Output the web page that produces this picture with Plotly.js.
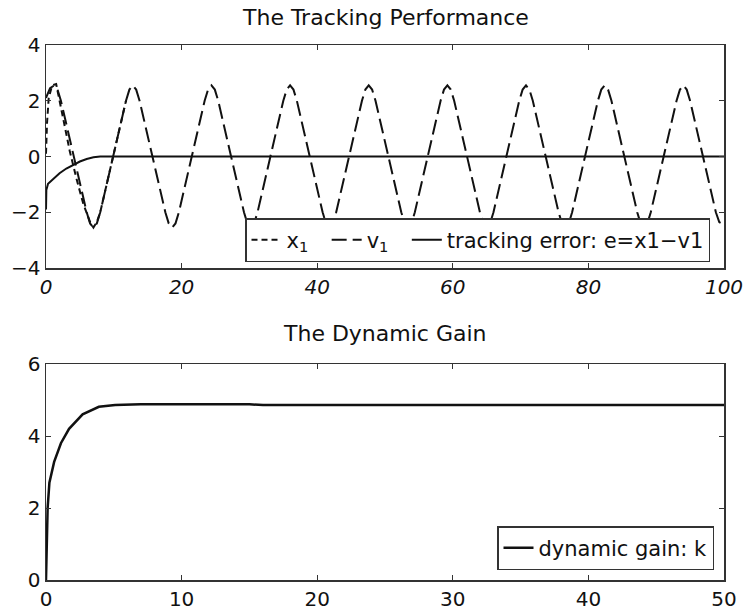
<!DOCTYPE html>
<html>
<head>
<meta charset="utf-8">
<script src="https://cdn.plot.ly/plotly-3.0.1.min.js"></script>
<style>html,body{margin:0;padding:0;background:#fff;}#chart{width:746px;height:609px;}</style>
</head>
<body>
<div id="chart"></div>
<script>
// ---- Top panel: tracking performance ----
const x1Time = [0, 0.15, 0.4, 0.9, 1.5, 2.5, 3.5, 4.5, 5.5, 6.5, 7.0, 7.5, 8.0, 9.9, 11.8];
const x1Vals = [0.1, 1.2, 2.1, 2.55, 2.6, 1.4, 0.2, -0.8, -1.7, -2.35, -2.55, -2.35, -2.0, 0, 2.0];

const v1Time = [0, 0.6, 1.2, 1.7, 2.2, 4.1, 6.0, 6.5,
  7.0, 7.5, 8.0, 9.9, 11.8, 12.3, 12.8, 13.3, 13.8, 15.7, 17.6, 18.1,
  18.6, 19.1, 19.6, 21.5, 23.4, 23.9, 24.4, 24.9, 25.4, 27.3, 29.2, 29.7,
  30.2, 30.7, 31.2, 33.1, 35.0, 35.5, 36.0, 36.5, 37.0, 38.9, 40.8, 41.3,
  41.8, 42.3, 42.8, 44.7, 46.6, 47.1, 47.6, 48.1, 48.6, 50.5, 52.4, 52.9,
  53.4, 53.9, 54.4, 56.3, 58.2, 58.7, 59.2, 59.7, 60.2, 62.1, 64.0, 64.5,
  65.0, 65.5, 66.0, 67.9, 69.8, 70.3, 70.8, 71.3, 71.8, 73.7, 75.6, 76.1,
  76.6, 77.1, 77.6, 79.5, 81.4, 81.9, 82.4, 82.9, 83.4, 85.3, 87.2, 87.7,
  88.2, 88.7, 89.2, 91.1, 93.0, 93.5, 94.0, 94.5, 95.0, 96.9, 98.8, 99.3, 100];
const v1Vals = [2.1, 2.45, 2.55, 2.4, 2.0, 0, -2.0, -2.4,
  -2.55, -2.4, -2.0, 0, 2.0, 2.4, 2.55, 2.4, 2.0, 0, -2.0, -2.4,
  -2.55, -2.4, -2.0, 0, 2.0, 2.4, 2.55, 2.4, 2.0, 0, -2.0, -2.4,
  -2.55, -2.4, -2.0, 0, 2.0, 2.4, 2.55, 2.4, 2.0, 0, -2.0, -2.4,
  -2.55, -2.4, -2.0, 0, 2.0, 2.4, 2.55, 2.4, 2.0, 0, -2.0, -2.4,
  -2.55, -2.4, -2.0, 0, 2.0, 2.4, 2.55, 2.4, 2.0, 0, -2.0, -2.4,
  -2.55, -2.4, -2.0, 0, 2.0, 2.4, 2.55, 2.4, 2.0, 0, -2.0, -2.4,
  -2.55, -2.4, -2.0, 0, 2.0, 2.4, 2.55, 2.4, 2.0, 0, -2.0, -2.4,
  -2.55, -2.4, -2.0, 0, 2.0, 2.4, 2.55, 2.4, 2.0, 0, -2.0, -2.35, -2.45];

const errTime = [0, 0.05, 0.3, 1, 2, 3, 4, 5, 6, 7, 8, 20, 40, 60, 80, 100];
const errVals = [-1.9, -1.2, -0.98, -0.82, -0.6, -0.43, -0.3, -0.18, -0.09, -0.03, 0, 0, 0, 0, 0, 0];

// ---- Bottom panel: dynamic gain ----
const kTime = [0, 0.05, 0.12, 0.25, 0.6, 1.1, 1.7, 2.7, 3.9, 5.1, 7, 15, 16, 30, 50];
const kVals = [0, 1.0, 2.0, 2.7, 3.28, 3.8, 4.2, 4.6, 4.81, 4.86, 4.88, 4.88, 4.86, 4.86, 4.86];

// tick labels
const topXTicks = [0, 20, 40, 60, 80, 100];
const topYTicks = [-4, -2, 0, 2, 4];
const botXTicks = [0, 10, 20, 30, 40, 50];
const botYTicks = [0, 2, 4, 6];

const NB = '\u00a0\u00a0';
const names = ['x<sub>1</sub>' + NB, 'v<sub>1</sub>' + NB, 'tracking error: e=x1\u2212v1', 'dynamic gain: k'];
const titles = ['The Tracking Performance', 'The Dynamic Gain'];

const FONT = 'DejaVu Sans, Liberation Sans, sans-serif';

const traces = [
  {x: x1Time, y: x1Vals, name: names[0], mode: 'lines', xaxis: 'x', yaxis: 'y', legend: 'legend',
   line: {color: '#111', width: 2, dash: '6px,4px'}},
  {x: v1Time, y: v1Vals, name: names[1], mode: 'lines', xaxis: 'x', yaxis: 'y', legend: 'legend',
   line: {color: '#111', width: 2, dash: '15px,6px'}},
  {x: errTime, y: errVals, name: names[2], mode: 'lines', xaxis: 'x', yaxis: 'y', legend: 'legend',
   line: {color: '#111', width: 2}},
  {x: kTime, y: kVals, name: names[3], mode: 'lines', xaxis: 'x2', yaxis: 'y2', legend: 'legend2',
   line: {color: '#111', width: 2.5}}
];

const axBase = {
  showline: true, mirror: 'ticks', linecolor: '#333', linewidth: 1.5,
  ticks: 'inside', ticklen: 5, tickcolor: '#333', tickwidth: 1,
  showgrid: false, zeroline: false, automargin: false,
  tickfont: {family: FONT, size: 20, color: '#111'}
};

const W = 746, H = 609;
const xd = [46 / W, 724 / W];

const layout = {
  width: W, height: H,
  margin: {l: 0, r: 0, t: 0, b: 0},
  paper_bgcolor: '#fff', plot_bgcolor: '#fff',
  font: {family: FONT, color: '#111'},
  showlegend: true,
  xaxis: Object.assign({}, axBase, {domain: xd, range: [0, 100], tickvals: topXTicks, anchor: 'y',
    tickfont: {family: FONT, size: 20, color: '#111', style: 'italic'}}),
  yaxis: Object.assign({}, axBase, {domain: [(H - 268) / H, (H - 45) / H], range: [-4, 4], tickvals: topYTicks, anchor: 'x'}),
  xaxis2: Object.assign({}, axBase, {domain: xd, range: [0, 50], tickvals: botXTicks, anchor: 'y2'}),
  yaxis2: Object.assign({}, axBase, {domain: [(H - 580) / H, (H - 364) / H], range: [0, 6], tickvals: botYTicks, anchor: 'x2'}),
  legend: {
    orientation: 'h', x: 710 / W, xanchor: 'right', y: (H - 262) / H, yanchor: 'bottom',
    bgcolor: '#fff', bordercolor: '#333', borderwidth: 1.5,
    font: {family: FONT, size: 21, color: '#111'}
  },
  legend2: {
    orientation: 'h', x: 714 / W, xanchor: 'right', y: (H - 570) / H, yanchor: 'bottom',
    bgcolor: '#fff', bordercolor: '#333', borderwidth: 1.5,
    font: {family: FONT, size: 21, color: '#111'}
  },
  annotations: [
    {text: titles[0], xref: 'paper', yref: 'paper', x: 385 / W, y: (H - 18) / H, xanchor: 'center', yanchor: 'middle',
     showarrow: false, font: {family: FONT, size: 22, color: '#111'}},
    {text: titles[1], xref: 'paper', yref: 'paper', x: 385 / W, y: (H - 333) / H, xanchor: 'center', yanchor: 'middle',
     showarrow: false, font: {family: FONT, size: 22, color: '#111'}}
  ]
};

Plotly.newPlot('chart', traces, layout, {staticPlot: true, displayModeBar: false});
</script>
</body>
</html>
